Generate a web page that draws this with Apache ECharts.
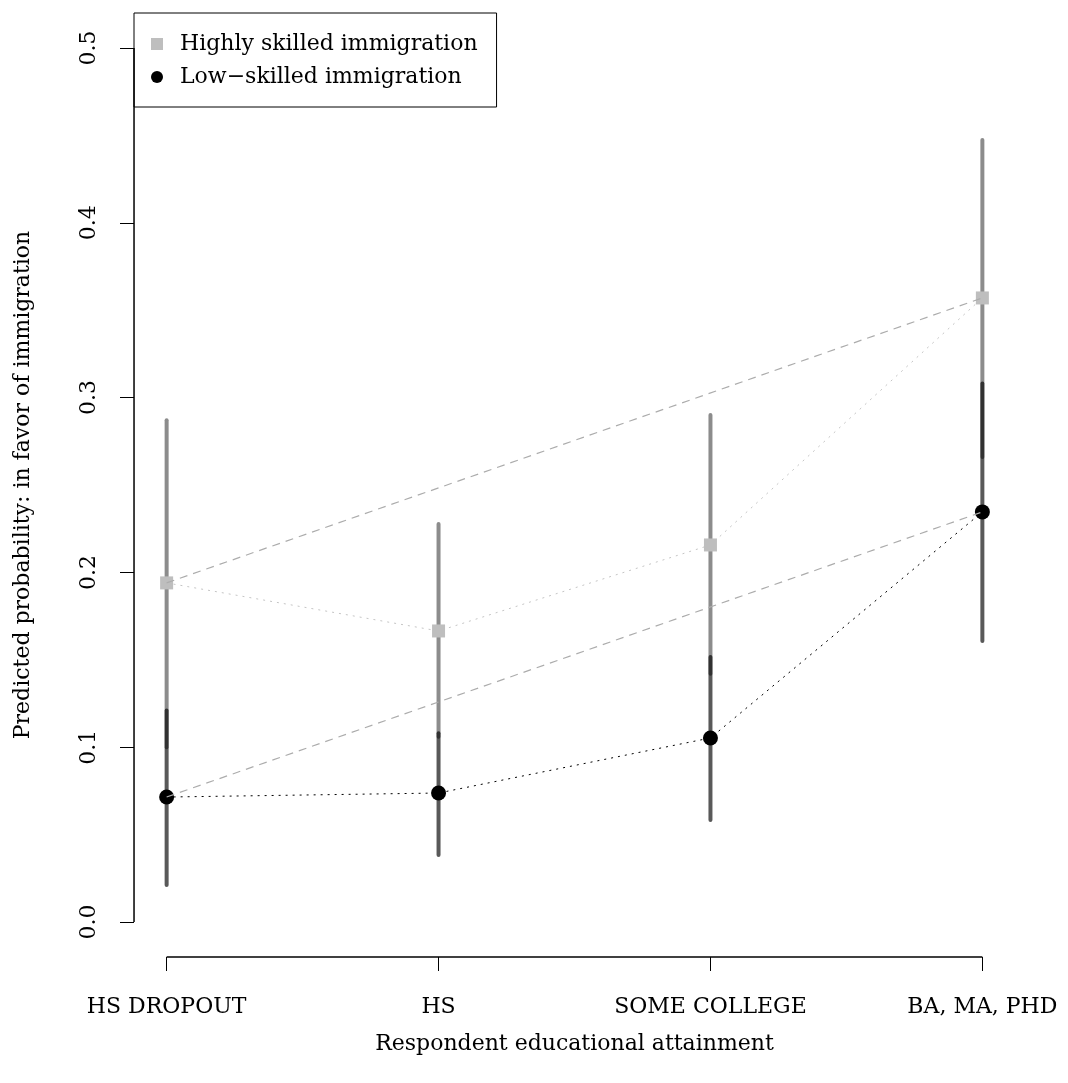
<!DOCTYPE html>
<html>
<head>
<meta charset="utf-8">
<script src="https://cdn.jsdelivr.net/npm/echarts@6/dist/echarts.min.js"></script>
<style>
  html, body { margin: 0; padding: 0; background: #fff; }
  #chart { width: 1068px; height: 1083px; }
</style>
</head>
<body>
<div id="chart"></div>
<script>
// data
const categories = ['HS DROPOUT', 'HS', 'SOME COLLEGE', 'BA, MA, PHD'];
const xPos = [1, 2, 3, 4];
const highPoint = [0.194, 0.1665, 0.2157, 0.357];
const highLower = [0.100, 0.106, 0.142, 0.266];
const highUpper = [0.287, 0.2277, 0.290, 0.4474];
const lowPoint = [0.0715, 0.0738, 0.1053, 0.2346];
const lowLower = [0.0212, 0.0383, 0.0584, 0.1607];
const lowUpper = [0.121, 0.108, 0.1516, 0.308];
const yTicks = [0, 0.1, 0.2, 0.3, 0.4, 0.5];

const FONT = 'DejaVu Serif';
const FS = 22;
const xMin = 0.88, xMax = 4.12, yMin = -0.02, yMax = 0.52;

const chart = echarts.init(document.getElementById('chart'));

// one straight segment per row: [xa, ya, xb, yb]
const segSeries = (name, data, color, width, cap, z) => ({
  name: name,
  type: 'custom',
  z: z,
  silent: true,
  clip: false,
  data: data,
  renderItem: (params, api) => {
    const a = api.coord([api.value(0), api.value(1)]);
    const b = api.coord([api.value(2), api.value(3)]);
    return {
      type: 'line',
      shape: { x1: a[0], y1: a[1], x2: b[0], y2: b[1] },
      style: { stroke: color, lineWidth: width, lineCap: cap }
    };
  }
});

const lineSeries = (data, color, type, width, z) => ({
  type: 'line',
  data: data,
  symbol: 'none',
  clip: false,
  silent: true,
  z: z,
  lineStyle: { color: color, width: width, type: type },
  emphasis: { disabled: true }
});

chart.setOption({
  animation: false,
  grid: { left: 134, right: 53, top: 13, bottom: 126 },
  xAxis: {
    type: 'value',
    min: xMin,
    max: xMax,
    name: 'Respondent educational attainment',
    nameLocation: 'middle',
    nameGap: 76,
    nameTextStyle: { fontFamily: FONT, fontSize: FS, color: '#000' },
    axisLine: { show: false, onZero: false },
    splitLine: { show: false },
    axisTick: { show: true, customValues: xPos, length: 14, lineStyle: { color: '#000' } },
    axisLabel: {
      customValues: xPos,
      formatter: (v) => categories[Math.round(v) - 1],
      margin: 39,
      fontFamily: FONT,
      fontSize: FS,
      color: '#000'
    }
  },
  yAxis: {
    type: 'value',
    min: yMin,
    max: yMax,
    name: 'Predicted probability: in favor of immigration',
    nameLocation: 'middle',
    nameGap: 100,
    nameRotate: 90,
    nameTextStyle: { fontFamily: FONT, fontSize: FS, color: '#000' },
    axisLine: { show: false, onZero: false },
    splitLine: { show: false },
    axisTick: { show: true, customValues: yTicks, length: 14, lineStyle: { color: '#000' } },
    axisLabel: {
      customValues: yTicks,
      formatter: (v) => v.toFixed(1),
      rotate: 90,
      margin: 34,
      fontFamily: FONT,
      fontSize: FS,
      color: '#000'
    }
  },
  legend: {
    left: 134,
    top: 13,
    orient: 'vertical',
    backgroundColor: '#fff',
    borderColor: '#000',
    borderWidth: 1,
    borderRadius: 0,
    padding: [20, 19, 19, 17],
    itemGap: 11,
    itemWidth: 12,
    itemHeight: 12,
    selectedMode: false,
    textStyle: { fontFamily: FONT, fontSize: FS, color: '#000', padding: [0, 0, 0, 12] },
    data: [
      { name: 'Highly skilled immigration', icon: 'rect' },
      { name: 'Low\u2212skilled immigration', icon: 'circle' }
    ]
  },
  series: [
    // axis lines only over the tick range, like base R
    segSeries('xaxisline', [[1, yMin, 4, yMin]], '#000', 1.3, 'butt', 10),
    segSeries('yaxisline', [[xMin + 0.0001, 0, xMin + 0.0001, 0.5]], '#000', 1.5, 'butt', 10),
    segSeries('ci-high', xPos.map((x, i) => [x, highLower[i], x, highUpper[i]]), 'rgba(0,0,0,0.45)', 4, 'round', 2),
    segSeries('ci-low', xPos.map((x, i) => [x, lowLower[i], x, lowUpper[i]]), 'rgba(0,0,0,0.65)', 4, 'round', 2),
    lineSeries(xPos.map((x, i) => [x, highPoint[i]]), '#c4c4c4', [2, 5], 1, 3),
    lineSeries(xPos.map((x, i) => [x, lowPoint[i]]), '#000', [2, 5], 1, 3),
    {
      name: 'Highly skilled immigration',
      type: 'scatter',
      z: 4,
      symbol: 'rect',
      symbolSize: 13,
      itemStyle: { color: '#bebebe', opacity: 1 },
      data: xPos.map((x, i) => [x, highPoint[i]])
    },
    {
      name: 'Low\u2212skilled immigration',
      type: 'scatter',
      z: 4,
      symbol: 'circle',
      symbolSize: 15,
      itemStyle: { color: '#000', opacity: 1 },
      data: xPos.map((x, i) => [x, lowPoint[i]])
    },
    lineSeries([[1, highPoint[0]], [4, highPoint[3]]], '#acacac', [8, 6], 1.2, 5),
    lineSeries([[1, lowPoint[0]], [4, lowPoint[3]]], '#acacac', [8, 6], 1.2, 5)
  ]
});

window.addEventListener('resize', () => chart.resize());
</script>
</body>
</html>
